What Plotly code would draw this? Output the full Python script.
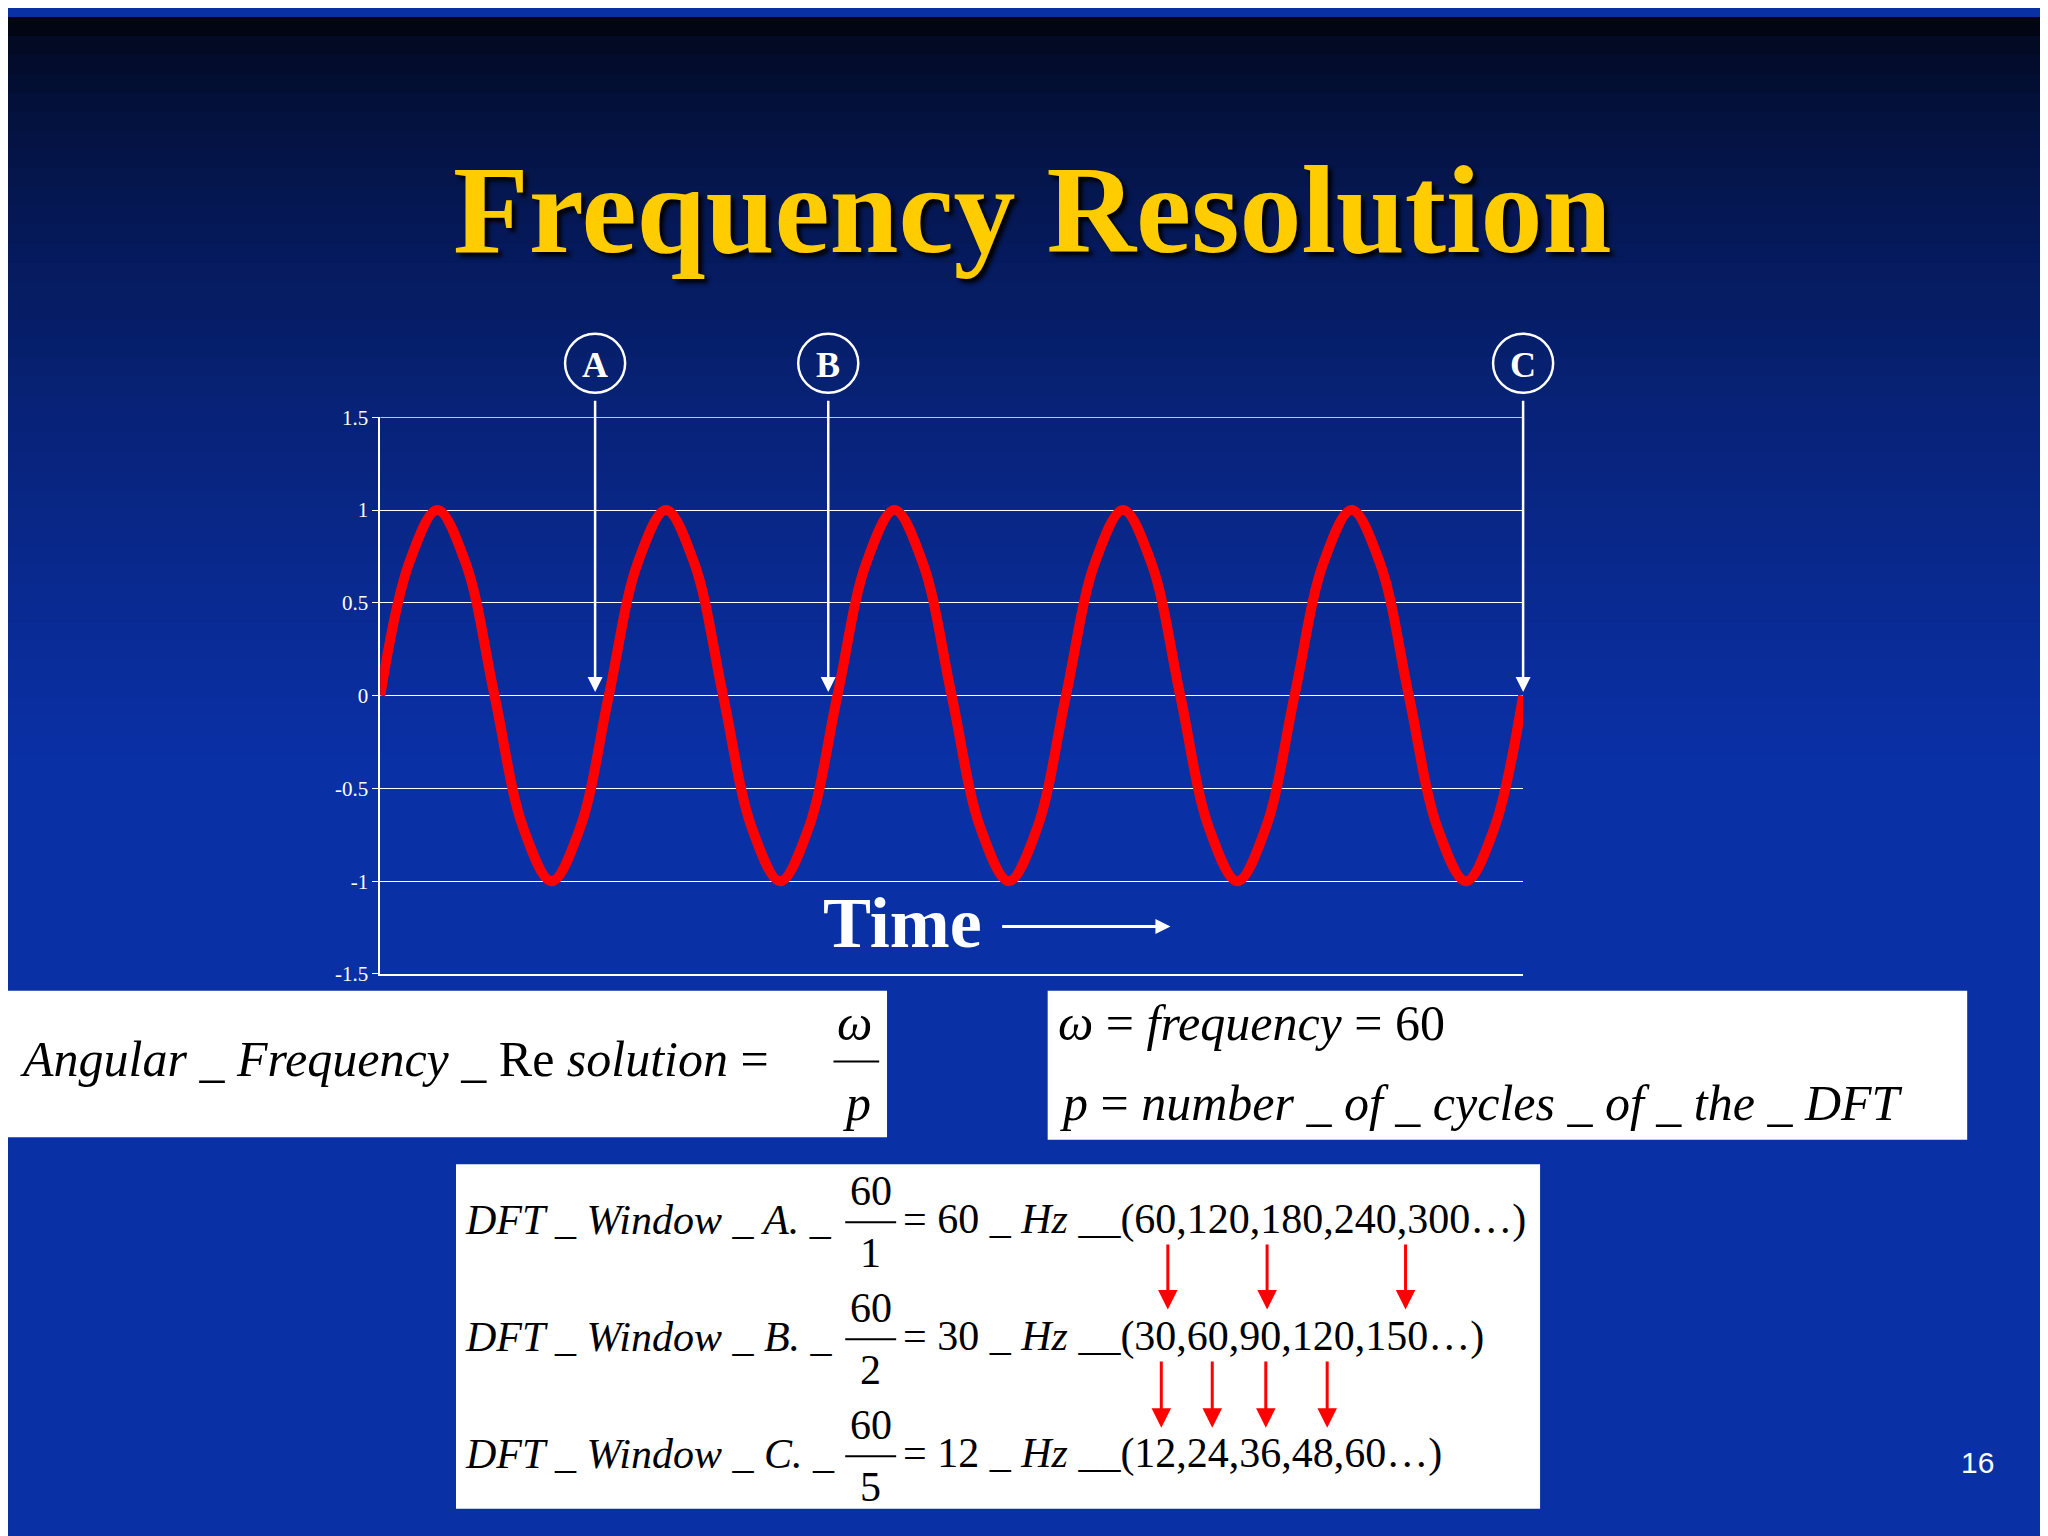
import plotly.graph_objects as go

W, H = 2048, 1536
S = W / 1568  # reference picture was read at 1568 px wide

# sine drawn through read-off points (peaks, zero crossings, half-way points), smoothed by spline
t_vals = [i * 0.125 for i in range(41)]
amp_vals = [0, 0.71, 1, 0.71, 0, -0.71, -1, -0.71] * 5 + [0]
y_ticks = [-1.5, -1, -0.5, 0, 0.5, 1, 1.5]
y_ticklabels = ["-1.5", "-1", "-0.5", "0", "0.5", "1", "1.5"]
window_labels = ["A", "B", "C"]
window_pos = [0.94, 1.96, 5]
rows = [("A", "60", "1", "60", "(60,120,180,240,300…)"),
        ("B", "60", "2", "30", "(30,60,90,120,150…)"),
        ("C", "60", "5", "12", "(12,24,36,48,60…)")]

SERIF = "Liberation Serif, Times New Roman, serif"


def px(x):
    return x / 1568


def py(y):
    return 1 - y / 1176


def txt(x, y, text, font, xanchor="center"):
    return dict(xref="paper", yref="paper", x=px(x), y=py(y), text=text, showarrow=False, font=font,
                xanchor=xanchor, yanchor="middle")


fig = go.Figure()
fig.add_trace(go.Scatter(x=t_vals, y=amp_vals, mode="lines", line=dict(color="#ff0000", width=10, shape="spline", smoothing=1),
                         showlegend=False, hoverinfo="skip"))

shapes = []
# background gradient: near-black at top to royal blue
top, bot = (1, 5, 20), (10, 48, 166)
n = 40
for i in range(n):
    f = min(1, (i / (n - 1)) ** 0.6)
    c = "rgb(%d,%d,%d)" % tuple(round(a + (b - a) * f) for a, b in zip(top, bot))
    shapes.append(dict(type="rect", xref="paper", yref="paper", x0=0, x1=1, y0=1 - (i + 1) * 0.5 / n, y1=1 - i * 0.5 / n + 0.002,
                       fillcolor=c, line_width=0, layer="below"))

# top gridline at 1.5 (edge of range)
shapes.append(dict(type="line", xref="x", yref="y", x0=0, x1=5, y0=1.5, y1=1.5, line=dict(color="white", width=1.3)))

# white formula boxes
for x0, y0, x1, y1 in [(0, 755, 673, 869), (796, 755, 1500, 871), (343, 890, 1173, 1158)]:
    shapes.append(dict(type="rect", xref="paper", yref="paper", x0=px(x0), x1=px(x1), y0=py(y1), y1=py(y0),
                       fillcolor="white", line_width=0))

annotations = []
# window markers
for lab, xv in zip(window_labels, window_pos):
    cx = 285 + xv * 175
    r = 23
    shapes.append(dict(type="circle", xref="paper", yref="paper", x0=px(cx - r), x1=px(cx + r),
                       y0=py(267 + r), y1=py(267 - r), line=dict(color="white", width=2.5)))
    annotations.append(txt(cx, 268, "<b>%s</b>" % lab, dict(family=SERIF, size=36, color="white")))
    annotations.append(dict(x=xv, y=0.02, xref="x", yref="y", ax=0, ay=-(515 - 291) * S, showarrow=True,
                            arrowhead=2, arrowsize=1.2, arrowwidth=2.5, arrowcolor="white", text=""))

# title
annotations.append(txt(784, 148, "<b>Frequency Resolution</b>",
                       dict(family=SERIF, size=124, color="#ffcc00", shadow="4px 4px 4px #000000")))
# Time label
annotations.append(txt(685, 702, "<b>Time</b>", dict(family=SERIF, size=72, color="white")))
annotations.append(dict(xref="paper", yref="paper", x=px(890), y=py(705), ax=-(890 - 760) * S, ay=0, text="",
                        showarrow=True, arrowhead=2, arrowwidth=3, arrowcolor="white"))
# page number
annotations.append(txt(1508, 1122, "16", dict(family="Liberation Sans, Arial", size=30, color="white")))

BLK = dict(family=SERIF, size=50, color="black")
# box 1
annotations.append(txt(8, 808, "<i>Angular _ Frequency _ </i>Re<i> solution</i> =", BLK, "left"))
annotations.append(txt(648, 780, "<i>ω</i>", BLK))
annotations.append(txt(650, 842, "<i>p</i>", BLK))
shapes.append(dict(type="line", xref="paper", yref="paper", x0=px(632), x1=px(667), y0=py(810), y1=py(810),
                   line=dict(color="black", width=2)))
# box 2
annotations.append(txt(802, 780, "<i>ω</i> = <i>frequency</i> = 60", BLK, "left"))
annotations.append(txt(804, 842, "<i>p</i> = <i>number _ of _ cycles _ of _ the _ DFT</i>", BLK, "left"))

# box 3
SM = dict(family=SERIF, size=42, color="black")
for i, (lab, num, den, hz, seq) in enumerate(rows):
    yc = 933 + i * 91
    annotations.append(txt(348, yc, "<i>DFT _ Window _ %s. _</i>" % lab, SM, "left"))
    annotations.append(txt(661, yc - 22, num, SM))
    annotations.append(txt(660, yc + 26, den, SM))
    shapes.append(dict(type="line", xref="paper", yref="paper", x0=px(641), x1=px(680), y0=py(yc + 2), y1=py(yc + 2),
                       line=dict(color="black", width=2)))
    annotations.append(txt(684, yc, "= %s _ <i>Hz</i> __%s" % (hz, seq), SM, "left"))

for xs, y0, y1 in [([888, 964, 1070], 952, 1003), ([883, 922, 963, 1010], 1043, 1095)]:
    for x in xs:
        annotations.append(dict(xref="paper", yref="paper", x=px(x), y=py(y1), ax=0, ay=-(y1 - y0) * S, text="",
                                showarrow=True, arrowhead=2, arrowsize=1.3, arrowwidth=3, arrowcolor="#ff0000"))

fig.update_layout(
    width=W, height=H, margin=dict(l=0, r=0, t=0, b=0),
    paper_bgcolor="#0a30a6", plot_bgcolor="rgba(0,0,0,0)",
    shapes=shapes, annotations=annotations,
    xaxis=dict(domain=[px(285), px(1160)], range=[0, 5], showgrid=False, showticklabels=False, zeroline=False,
               showline=True, linecolor="white", linewidth=1.5, ticks=""),
    yaxis=dict(domain=[py(742), py(309)], range=[-1.5, 1.5], tickvals=y_ticks, ticktext=y_ticklabels,
               showgrid=True, gridcolor="white", gridwidth=1.3, zeroline=False, showline=True, linecolor="white",
               linewidth=1.5, ticks="outside", ticklen=6, tickcolor="white",
               tickfont=dict(family=SERIF, size=21, color="white")),
)

fig.write_html("out.html")
